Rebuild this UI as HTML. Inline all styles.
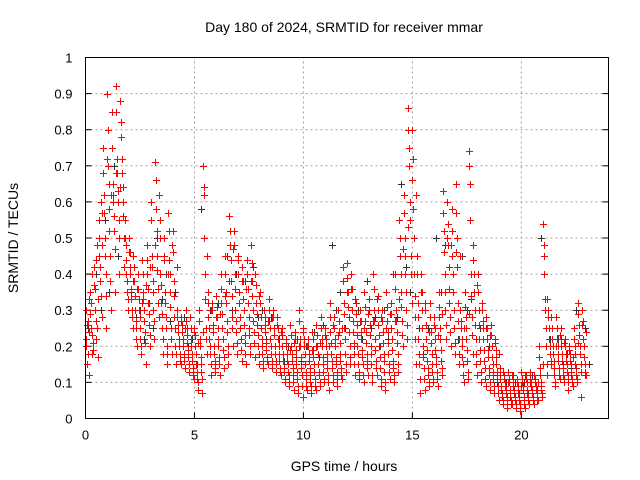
<!DOCTYPE html>
<html><head><meta charset="utf-8"><style>
html,body{margin:0;padding:0;background:#fff;}
svg{display:block;font-family:"Liberation Sans",sans-serif;}
</style></head><body>
<svg id="chart" width="640" height="480" viewBox="0 0 640 480">
<rect x="0" y="0" width="640" height="480" fill="#fff"/>
<text x="344" y="32" font-size="14" text-anchor="middle">Day 180 of 2024, SRMTID for receiver mmar</text>
<text x="344" y="471" font-size="14" text-anchor="middle">GPS time / hours</text>
<text transform="translate(18,238) rotate(-90)" font-size="14" text-anchor="middle">SRMTID / TECUs</text>
<g id="grid"></g>
<g id="ticks"></g>
<g id="black" stroke="#333" stroke-width="1" fill="none"></g>
<g id="red" stroke="#ff0000" stroke-width="1" fill="none"></g>
<rect x="85.5" y="57.5" width="523" height="361" fill="none" stroke="#000" stroke-width="1"/>
</svg>
<script>
const xTicks=[0,5,10,15,20];
const yTicks=[0,0.1,0.2,0.3,0.4,0.5,0.6,0.7,0.8,0.9,1];
const yTickLabels=["0","0.1","0.2","0.3","0.4","0.5","0.6","0.7","0.8","0.9","1"];
const binStart=0, binWidth=0.2;
const redValues=[
[.30,.22,.15,.27,.12],[.35,.25,.18,.40,.21],[.42,.30,.22,.48,.17],[.55,.45,.38,.60,.28],[.75,.62,.50,.40,.25],
[.90,.70,.58,.45,.30],[.85,.65,.60,.52,.35],[.92,.72,.63,.55,.40],[.88,.78,.68,.60,.42],[.55,.48,.40,.35,.30],
[.50,.42,.36,.30,.25],[.45,.38,.30,.25,.20],[.40,.33,.28,.22,.18],[.44,.35,.30,.24,.15],[.48,.40,.32,.26,.20],
[.60,.45,.38,.30,.22],[.71,.58,.45,.36,.28],[.55,.40,.32,.25,.18],[.50,.35,.28,.20,.15],[.57,.44,.35,.25,.18],
[.52,.38,.28,.20,.15],[.30,.26,.22,.18,.15],[.28,.24,.20,.17,.14],[.30,.25,.21,.17,.13],[.28,.22,.18,.14,.11],
[.25,.20,.15,.11,.08],[.30,.22,.17,.13,.07],[.70,.64,.40,.25,.18],[.35,.28,.22,.18,.12],[.32,.26,.20,.16,.13],
[.34,.28,.22,.17,.12],[.40,.32,.25,.19,.14],[.45,.35,.27,.20,.15],[.56,.48,.38,.28,.20],[.52,.40,.30,.24,.18],
[.45,.35,.28,.22,.16],[.42,.33,.26,.21,.15],[.44,.36,.28,.23,.18],[.48,.38,.30,.24,.17],[.40,.32,.26,.20,.15],
[.35,.28,.22,.18,.14],[.30,.26,.21,.17,.15],[.33,.27,.22,.18,.14],[.30,.25,.20,.16,.13],[.28,.22,.18,.14,.12],
[.25,.20,.16,.13,.10],[.22,.18,.15,.12,.09],[.26,.20,.16,.12,.08],[.24,.19,.15,.11,.07],[.30,.22,.17,.12,.06],
[.25,.20,.15,.11,.08],[.22,.18,.14,.10,.07],[.24,.19,.15,.11,.08],[.26,.20,.15,.12,.09],[.28,.22,.17,.13,.10],
[.25,.20,.16,.12,.08],[.32,.24,.18,.14,.10],[.28,.22,.17,.13,.09],[.30,.24,.18,.14,.11],[.42,.32,.25,.18,.13],
[.43,.35,.28,.20,.15],[.40,.30,.24,.18,.12],[.32,.26,.20,.15,.11],[.30,.24,.19,.15,.10],[.35,.27,.21,.16,.12],
[.33,.26,.20,.15,.10],[.40,.30,.22,.16,.12],[.34,.26,.20,.14,.09],[.30,.24,.18,.13,.08],[.35,.27,.21,.15,.11],
[.32,.25,.19,.14,.10],[.40,.30,.24,.18,.13],[.55,.45,.35,.27,.20],[.62,.50,.40,.30,.22],[.86,.75,.60,.45,.32],
[.80,.58,.40,.28,.15],[.45,.32,.22,.15,.07],[.40,.30,.20,.14,.08],[.30,.22,.16,.12,.09],[.32,.24,.18,.13,.10],
[.28,.22,.17,.13,.09],[.35,.28,.22,.16,.12],[.63,.52,.40,.30,.22],[.60,.48,.36,.28,.20],[.58,.45,.35,.25,.18],
[.65,.50,.32,.22,.15],[.30,.25,.20,.15,.10],[.35,.28,.22,.16,.11],[.74,.65,.40,.28,.18],[.44,.35,.26,.18,.12],
[.40,.30,.22,.16,.10],[.30,.25,.19,.14,.09],[.28,.22,.17,.12,.08],[.26,.20,.15,.11,.07],[.22,.17,.13,.09,.05],
[.14,.11,.08,.06,.04],[.12,.10,.08,.06,.03],[.13,.10,.07,.05,.04],[.12,.09,.07,.05,.03],[.11,.09,.06,.04,.02],
[.13,.10,.08,.05,.03],[.12,.10,.07,.05,.04],[.13,.10,.08,.06,.04],[.12,.10,.08,.06,.05],[.20,.14,.10,.08,.06],
[.54,.45,.30,.20,.12],[.33,.28,.22,.18,.15],[.25,.20,.16,.12,.09],[.28,.22,.18,.14,.11],[.25,.20,.16,.12,.10],
[.22,.18,.15,.12,.08],[.20,.16,.13,.11,.09],[.25,.20,.15,.12,.10],[.32,.26,.20,.15,.06],[.30,.22,.17,.13,.12]
];
const redValues2=[
[.20,.26,.18,.33,.24],[.29,.32,.23,.19,.37],[.36,.27,.44,.25,.33],[.50,.42,.34,.57,.48],[.68,.57,.45,.34,.72],
[.80,.65,.52,.38,.62],[.75,.62,.56,.47,.68],[.85,.68,.60,.50,.64],[.82,.72,.64,.56,.50],[.50,.44,.38,.33,.46],
[.46,.40,.33,.28,.38],[.42,.34,.27,.22,.36],[.36,.30,.25,.20,.32],[.40,.33,.27,.21,.37],[.44,.36,.29,.23,.42],
[.55,.42,.35,.27,.48],[.66,.52,.41,.32,.62],[.50,.37,.29,.22,.44],[.45,.32,.25,.18,.40],[.52,.40,.31,.22,.48],
[.46,.34,.25,.18,.42],[.28,.24,.20,.16,.27],[.26,.22,.18,.16,.25],[.27,.23,.19,.15,.28],[.25,.20,.16,.12,.24],
[.23,.18,.13,.10,.21],[.27,.20,.15,.11,.24],[.62,.50,.33,.22,.45],[.32,.25,.20,.15,.30],[.30,.24,.18,.14,.28],
[.31,.25,.20,.15,.29],[.36,.29,.22,.17,.34],[.40,.32,.24,.18,.38],[.52,.44,.34,.25,.47],[.48,.36,.27,.21,.44],
[.40,.32,.25,.19,.38],[.38,.30,.23,.18,.36],[.40,.32,.25,.20,.38],[.43,.34,.27,.21,.40],[.37,.29,.23,.18,.34],
[.32,.25,.20,.16,.30],[.28,.24,.19,.16,.27],[.30,.25,.20,.16,.28],[.28,.23,.18,.15,.26],[.25,.20,.16,.13,.24],
[.23,.18,.14,.11,.21],[.20,.16,.13,.10,.19],[.23,.18,.14,.10,.21],[.22,.17,.13,.09,.20],[.27,.20,.14,.09,.24],
[.22,.18,.13,.09,.20],[.20,.16,.12,.09,.19],[.22,.17,.13,.09,.20],[.23,.18,.13,.10,.21],[.25,.20,.15,.11,.23],
[.22,.18,.14,.10,.20],[.28,.21,.16,.12,.26],[.25,.20,.15,.11,.23],[.27,.21,.16,.12,.25],[.38,.29,.22,.15,.35],
[.39,.31,.24,.17,.36],[.36,.27,.21,.15,.33],[.29,.23,.18,.13,.27],[.27,.22,.17,.12,.25],[.31,.24,.18,.14,.29],
[.30,.23,.18,.12,.27],[.36,.27,.19,.14,.33],[.30,.23,.17,.11,.28],[.27,.21,.16,.10,.25],[.31,.24,.18,.13,.29],
[.29,.22,.16,.12,.27],[.36,.27,.21,.15,.33],[.50,.40,.31,.23,.47],[.57,.45,.35,.26,.53],[.80,.70,.55,.40,.66],
[.72,.50,.34,.22,.62],[.40,.28,.18,.11,.35],[.35,.25,.17,.11,.32],[.26,.19,.14,.10,.24],[.28,.21,.15,.11,.26],
[.25,.19,.15,.11,.23],[.31,.25,.19,.14,.29],[.57,.46,.35,.26,.50],[.54,.42,.32,.24,.48],[.52,.40,.30,.21,.46],
[.57,.42,.27,.18,.45],[.27,.22,.17,.12,.25],[.31,.25,.19,.13,.29],[.70,.55,.34,.23,.48],[.40,.30,.22,.15,.37],
[.35,.26,.19,.13,.32],[.27,.22,.16,.11,.25],[.25,.19,.14,.10,.23],[.23,.17,.13,.09,.21],[.19,.15,.11,.07,.18],
[.12,.09,.07,.05,.13],[.11,.09,.07,.04,.10],[.11,.08,.06,.04,.12],[.10,.08,.06,.04,.11],[.10,.07,.05,.03,.09],
[.11,.09,.06,.04,.12],[.11,.08,.06,.04,.10],[.11,.09,.07,.05,.12],[.11,.09,.07,.05,.10],[.17,.12,.09,.07,.15],
[.48,.40,.33,.25,.15],[.30,.25,.20,.16,.28],[.22,.18,.14,.10,.20],[.25,.20,.16,.12,.23],[.22,.18,.14,.11,.21],
[.20,.16,.13,.10,.19],[.18,.15,.12,.10,.17],[.22,.18,.14,.11,.21],[.29,.23,.18,.13,.26],[.27,.20,.15,.12,.24]
];
const blackBinWidth=0.4;
const blackValues=[
[.25,.18],[.40,.30],[.55,.35],[.70,.45],[.60,.38],[.35,.28],[.30,.22],[.32,.25],[.50,.33],[.40,.27],
[.35,.22],[.28,.20],[.22,.15],[.58,.33],[.30,.20],[.32,.22],[.45,.30],[.40,.28],[.38,.25],[.42,.28],
[.30,.22],[.28,.20],[.22,.16],[.20,.14],[.22,.16],[.20,.14],[.24,.17],[.26,.18],[.48,.30],[.35,.25],
[.28,.20],[.30,.22],[.38,.25],[.28,.20],[.30,.22],[.40,.28],[.65,.42],[.35,.22],[.25,.18],[.25,.18],
[.50,.35],[.48,.32],[.30,.22],[.45,.30],[.33,.22],[.25,.16],[.20,.12],[.10,.07],[.10,.06],[.10,.07],
[.10,.07],[.12,.08],[.50,.30],[.22,.16],[.22,.15],[.18,.14],[.30,.20],[.25,.15]
];
const X0=85.5,X1=608.5,Y0=418.5,Y1=57.5,XMAX=24;
const xs=v=>X0+(X1-X0)*v/XMAX;
const ys=v=>Y0-(Y0-Y1)*v;
const NS="http://www.w3.org/2000/svg";
const grid=document.getElementById('grid'),ticks=document.getElementById('ticks');
function mk(tag,attrs,parent){const e=document.createElementNS(NS,tag);for(const k in attrs)e.setAttribute(k,attrs[k]);parent.appendChild(e);return e;}
xTicks.forEach(t=>{
  const x=xs(t);
  if(t>0){const g=mk('line',{x1:x,x2:x,y1:Y0,y2:Y1,stroke:'#a0a0a0','stroke-dasharray':'2,3'},grid);
  
  }
  const l=mk('line',{x1:x,x2:x,y1:Y0,y2:Y0-6,stroke:'#000'},ticks);
  
  
  const tx=mk('text',{x:x,y:Y0+21,'font-size':13,'text-anchor':'middle'},ticks);tx.textContent=t;
  
  
});
yTicks.forEach((t,i)=>{
  const y=ys(t);
  if(t>0&&t<1){const g=mk('line',{x1:X0,x2:X1,y1:y,y2:y,stroke:'#a0a0a0','stroke-dasharray':'2,3'},grid);
  
  }
  const l=mk('line',{x1:X0,x2:X0+6,y1:y,y2:y,stroke:'#000'},ticks);
  
  
  const r=mk('line',{x1:X1,x2:X1-6,y1:y,y2:y,stroke:'#000'},ticks);
  
  
  const tx=mk('text',{x:X0-13,y:y+5,'font-size':13,'text-anchor':'end'},ticks);tx.textContent=yTickLabels[i];
  
  
});
function plus(g,t,v){
  const x=Math.round(xs(t))+0.5,y=Math.round(ys(v))+0.5;
  const p=mk('path',{d:`M${x-3.5},${y}H${x+3.5}M${x},${y-3.5}V${y+3.5}`},g);
  
  
}
const gb=document.getElementById('black'),gr=document.getElementById('red');
blackValues.forEach((vals,i)=>vals.forEach((v,k)=>plus(gb,binStart+i*blackBinWidth+0.1+k*0.2,v)));
redValues.forEach((vals,i)=>vals.forEach((v,k)=>plus(gr,binStart+i*binWidth+k*0.04,v)));
redValues2.forEach((vals,i)=>vals.forEach((v,k)=>plus(gr,binStart+i*binWidth+0.02+k*0.04,v)));
</script>
</body></html>
